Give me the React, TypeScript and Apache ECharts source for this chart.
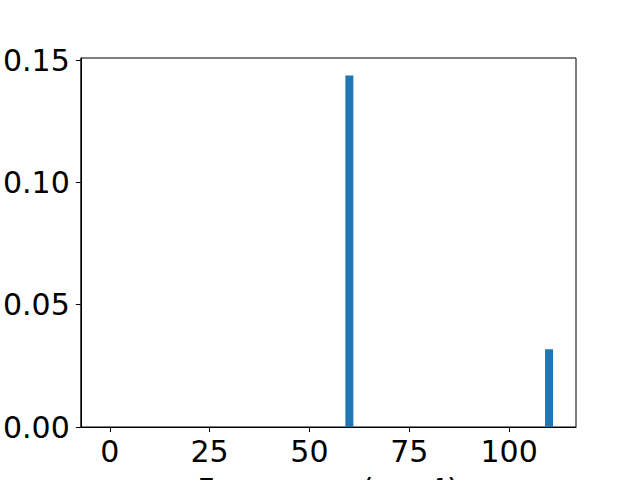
import React, { useEffect, useRef } from "react";
import * as echarts from "echarts";

const frequencies = [60, 110];
const intensities = [0.1437, 0.0318];
const xTicks = [0, 25, 50, 75, 100];
const yTicks = [0, 0.05, 0.1, 0.15];
const xLabel = "Frequency (cm⁻¹)";

export default function App() {
  const ref = useRef<HTMLDivElement>(null);
  useEffect(() => {
    if (!ref.current) return;
    const chart = echarts.init(ref.current, null, { renderer: "svg" });
    const font = "DejaVu Sans";
    const fs = 30;
    chart.setOption({
      animation: false,
      grid: {
        left: 80,
        right: 64,
        top: 58,
        bottom: 53,
        show: true,
        borderColor: "#000",
        borderWidth: 1,
        containLabel: false,
      },
      xAxis: {
        type: "value",
        min: -7.25,
        max: 116.75,
        splitLine: { show: false },
        axisLine: { show: true, onZero: false, lineStyle: { color: "#000", width: 1 } },
        axisTick: { show: true, length: 5, lineStyle: { color: "#000" }, customValues: xTicks },
        axisLabel: {
          customValues: xTicks,
          margin: 9,
          fontSize: fs,
          fontFamily: font,
          color: "#000",
        },
      },
      yAxis: {
        type: "value",
        min: 0,
        max: 0.1509,
        splitLine: { show: false },
        axisLine: { show: true, onZero: false, lineStyle: { color: "#000", width: 1 } },
        axisTick: { show: true, length: 5, lineStyle: { color: "#000" }, customValues: yTicks },
        axisLabel: {
          customValues: yTicks,
          margin: 11,
          fontSize: fs,
          fontFamily: font,
          color: "#000",
          formatter: (v: number) => v.toFixed(2),
        },
      },
      graphic: [
        {
          type: "text",
          x: 328,
          y: 474,
          style: {
            text: xLabel,
            fontSize: fs,
            fontFamily: font,
            fill: "#000",
            align: "center",
            verticalAlign: "top",
          },
        },
      ],
      series: [
        {
          type: "bar",
          data: frequencies.map((f, i) => [f, intensities[i]]),
          barWidth: 8,
          itemStyle: { color: "#1f77b4" },
        },
      ],
    });
    return () => chart.dispose();
  }, []);
  return <div ref={ref} style={{ width: 640, height: 480, position: "absolute", left: 0, top: 0 }} />;
}
